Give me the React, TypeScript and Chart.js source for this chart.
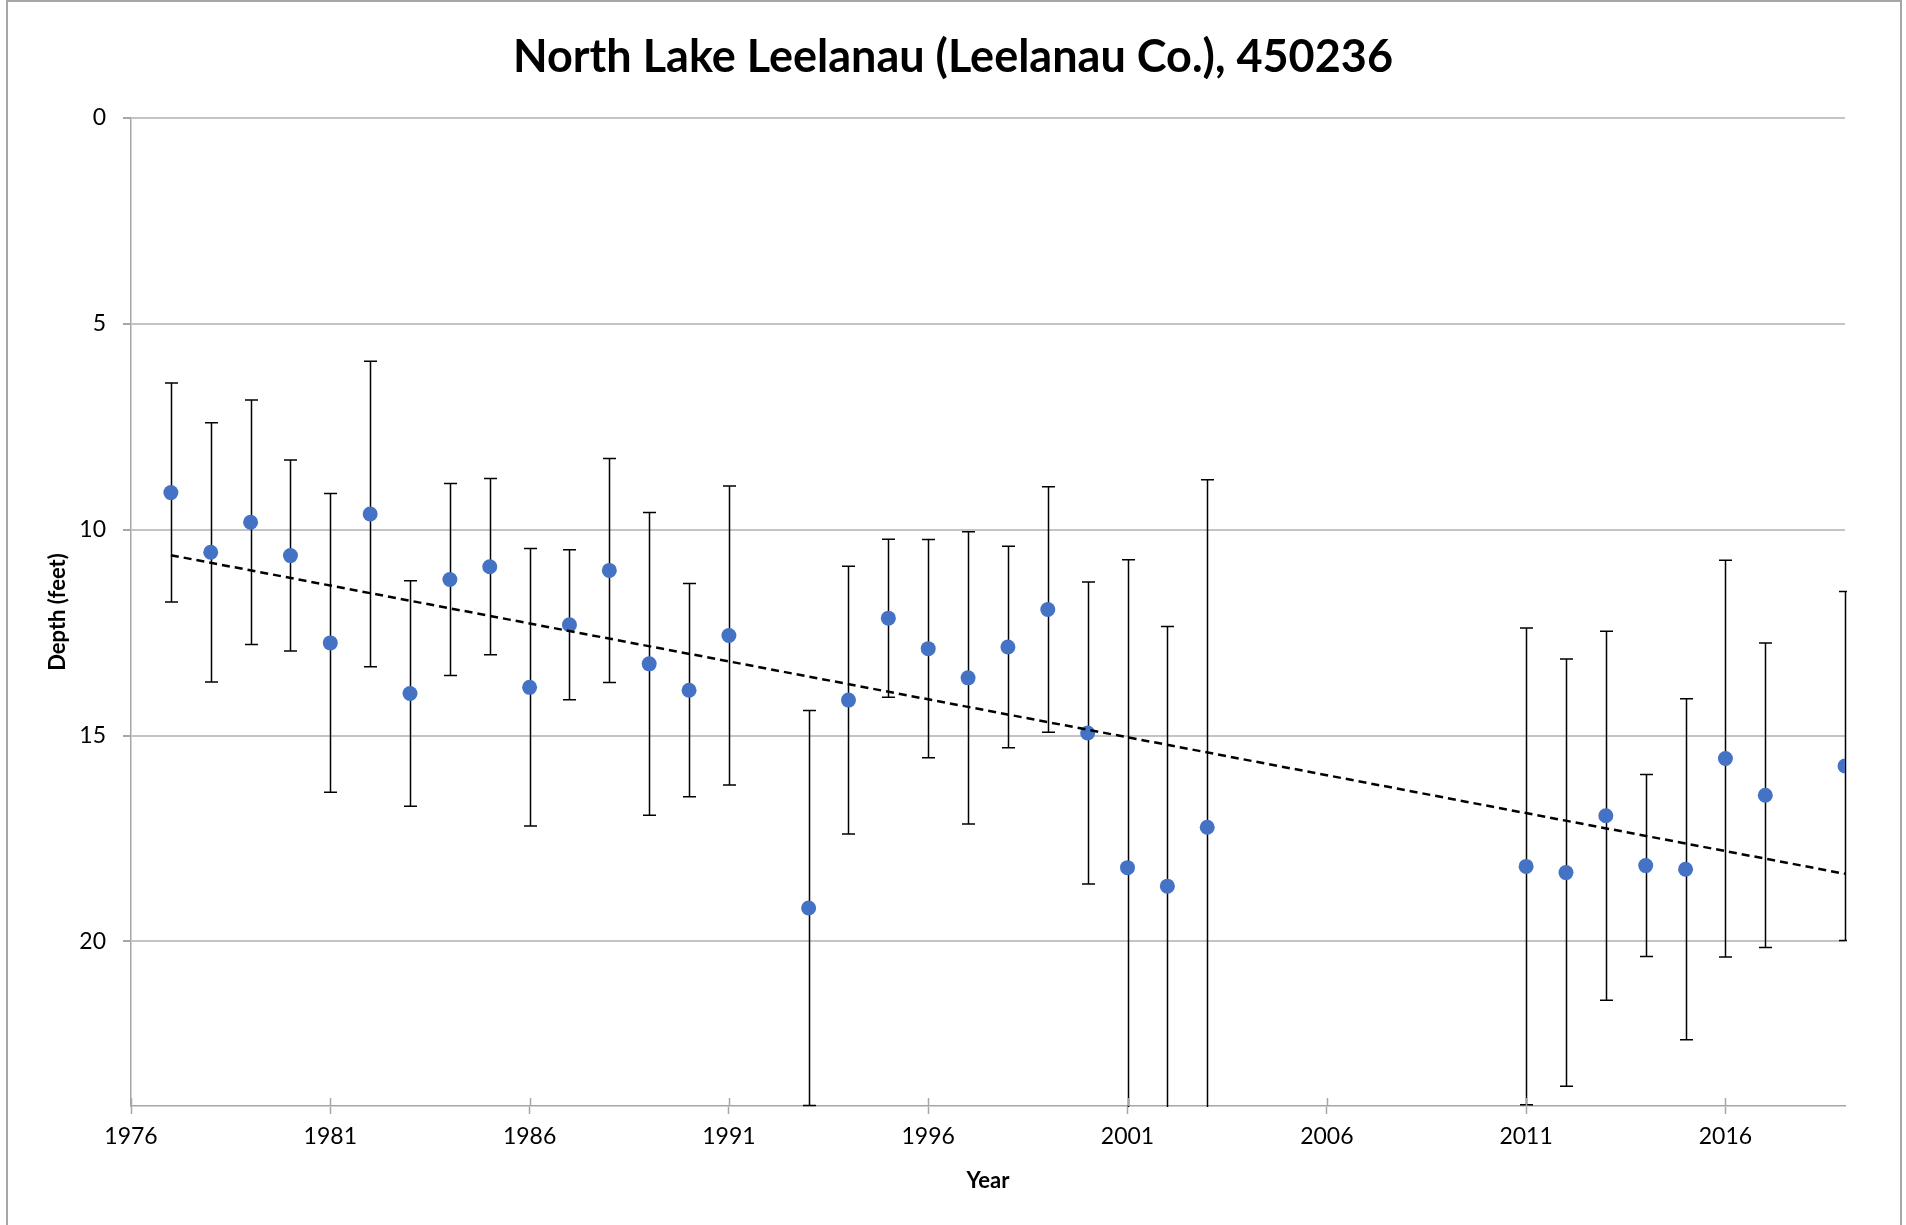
import React, { useEffect, useRef } from "react";
import { Chart, registerables } from "chart.js";

Chart.register(...registerables);

const TITLE = "North Lake Leelanau (Leelanau Co.), 450236";
const X_TITLE = "Year";
const Y_TITLE = "Depth (feet)";

const YEARS = [
  1977, 1978, 1979, 1980, 1981, 1982, 1983, 1984, 1985, 1986, 1987, 1988, 1989, 1990, 1991,
  1993, 1994, 1995, 1996, 1997, 1998, 1999, 2000, 2001, 2002, 2003,
  2011, 2012, 2013, 2014, 2015, 2016, 2017, 2019,
];
const MEAN_DEPTH = [
  9.1, 10.55, 9.82, 10.63, 12.75, 9.62, 13.98, 11.21, 10.9, 13.83, 12.31, 10.99, 13.26, 13.9, 12.57,
  19.19, 14.14, 12.15, 12.89, 13.6, 12.85, 11.94, 14.94, 18.21, 18.66, 17.23,
  18.18, 18.33, 16.95, 18.16, 18.25, 15.56, 16.45, 15.74,
];
const STD_DEV = [
  2.66, 3.15, 2.97, 2.32, 3.63, 3.71, 2.74, 2.33, 2.14, 3.37, 1.82, 2.72, 3.68, 2.59, 3.63,
  4.8, 3.25, 1.92, 2.65, 3.55, 2.45, 2.98, 3.67, 7.48, 6.31, 8.44,
  5.79, 5.19, 4.48, 2.21, 4.14, 4.82, 3.7, 4.24,
];
const TREND_YEARS = [1977, 2019];
const TREND_DEPTH = [10.62, 18.36];

const X_TICKS = [1976, 1981, 1986, 1991, 1996, 2001, 2006, 2011, 2016];
const Y_TICKS = [0, 5, 10, 15, 20];
const X_MIN = 1976;
const X_MAX = 2019;
const Y_MIN = 0;
const Y_MAX = 24;

const FONT = "Lato, 'Open Sans', sans-serif";

const errorBarPlugin = {
  id: "errorBars",
  beforeDatasetsDraw(chart: any) {
    const { ctx, chartArea, scales } = chart;
    const x = scales.x;
    const y = scales.y;
    ctx.save();
    ctx.beginPath();
    ctx.rect(chartArea.left - 10, chartArea.top - 1, chartArea.right - chartArea.left + 12, chartArea.bottom - chartArea.top + 2);
    ctx.clip();
    ctx.strokeStyle = "#000";
    ctx.lineWidth = 1.5;
    const cap = 6.5;
    YEARS.forEach((yr, i) => {
      const px = Math.round(x.getPixelForValue(yr)) + 0.5;
      const top = y.getPixelForValue(MEAN_DEPTH[i] - STD_DEV[i]);
      const bot = y.getPixelForValue(MEAN_DEPTH[i] + STD_DEV[i]);
      ctx.beginPath();
      ctx.moveTo(px, top);
      ctx.lineTo(px, bot);
      ctx.moveTo(px - cap, top);
      ctx.lineTo(px + cap, top);
      ctx.moveTo(px - cap, bot);
      ctx.lineTo(px + cap, bot);
      ctx.stroke();
    });
    ctx.restore();
  },
};

const innerTickPlugin = {
  id: "innerTicks",
  afterDraw(chart: any) {
    const { ctx, chartArea, scales } = chart;
    const x = scales.x;
    ctx.save();
    ctx.strokeStyle = "#a6a6a6";
    ctx.lineWidth = 1.5;
    X_TICKS.forEach((v) => {
      const px = Math.round(x.getPixelForValue(v)) + 0.5;
      ctx.beginPath();
      ctx.moveTo(px, chartArea.bottom - 8);
      ctx.lineTo(px, chartArea.bottom);
      ctx.stroke();
    });
    // chart outer border
    ctx.strokeStyle = "#a6a6a6";
    ctx.lineWidth = 2;
    ctx.strokeRect(7, 1, 1894, 1240);
    ctx.restore();
  },
};

export default function App() {
  const canvasRef = useRef<HTMLCanvasElement | null>(null);

  useEffect(() => {
    const canvas = canvasRef.current;
    if (!canvas) return;
    const chart = new Chart(canvas, {
      type: "scatter",
      data: {
        datasets: [
          {
            label: "Trend",
            type: "line",
            data: TREND_YEARS.map((yr, i) => ({ x: yr, y: TREND_DEPTH[i] })),
            borderColor: "#000",
            borderWidth: 2.5,
            borderDash: [8, 5],
            pointRadius: 0,
            fill: false,
            order: 0,
          } as any,
          {
            label: "Mean depth",
            data: YEARS.map((yr, i) => ({ x: yr, y: MEAN_DEPTH[i] })),
            backgroundColor: "#4472C4",
            borderColor: "#4472C4",
            borderWidth: 0,
            pointRadius: 7.5,
            pointHoverRadius: 7.5,
            order: 1,
          },
        ],
      },
      options: {
        responsive: false,
        animation: false,
        devicePixelRatio: 1,
        layout: { padding: 0 },
        plugins: {
          legend: { display: false },
          tooltip: { enabled: false },
          title: {
            display: true,
            text: TITLE,
            color: "#000",
            font: { family: FONT, size: 45, weight: "bold" },
            padding: { top: 30, bottom: 34 },
          },
        },
        scales: {
          x: {
            type: "linear",
            min: X_MIN,
            max: X_MAX,
            afterBuildTicks: (scale: any) => {
              scale.ticks = X_TICKS.map((v) => ({ value: v }));
            },
            afterFit: (scale: any) => {
              scale.height = 119;
            },
            grid: {
              display: true,
              drawOnChartArea: false,
              drawTicks: true,
              tickLength: 8,
              tickColor: "#a6a6a6",
              tickWidth: 1.5,
              color: "#a6a6a6",
            },
            border: { display: true, color: "#a6a6a6", width: 1.5 },
            ticks: {
              color: "#000",
              font: { family: FONT, size: 23 },
              padding: 9,
              maxRotation: 0,
              autoSkip: false,
              callback: (v: any) => String(v),
            },
            title: {
              display: true,
              text: X_TITLE,
              color: "#000",
              font: { family: FONT, size: 22, weight: "bold" },
              padding: { top: 0, bottom: 31 },
            },
          },
          y: {
            type: "linear",
            position: "left",
            reverse: true,
            min: Y_MIN,
            max: Y_MAX,
            afterBuildTicks: (scale: any) => {
              scale.ticks = Y_TICKS.map((v) => ({ value: v }));
            },
            afterFit: (scale: any) => {
              scale.width = 131;
            },
            grid: {
              display: true,
              drawOnChartArea: true,
              drawTicks: true,
              tickLength: 8,
              tickColor: "#a6a6a6",
              color: "#c4c4c4",
              lineWidth: 2,
            },
            border: { display: true, color: "#a6a6a6", width: 1.5 },
            ticks: {
              color: "#000",
              font: { family: FONT, size: 23 },
              padding: 17,
              callback: (v: any) => String(v),
            },
            title: {
              display: true,
              text: Y_TITLE,
              color: "#000",
              font: { family: FONT, size: 22, weight: "bold" },
              padding: { top: 45, bottom: 0 },
            },
          },
          yRightSpace: {
            type: "linear",
            position: "right",
            display: true,
            min: 0,
            max: 1,
            afterFit: (scale: any) => {
              scale.width = 61;
            },
            grid: { display: false, drawOnChartArea: false, drawTicks: false },
            border: { display: false },
            ticks: { display: false },
          },
        },
      },
      plugins: [errorBarPlugin, innerTickPlugin],
    });
    return () => chart.destroy();
  }, []);

  return (
    <div style={{ position: "absolute", left: 0, top: 0, width: 1906, height: 1225, background: "#fff" }}>
      <canvas ref={canvasRef} width={1906} height={1225} style={{ display: "block" }} />
    </div>
  );
}
